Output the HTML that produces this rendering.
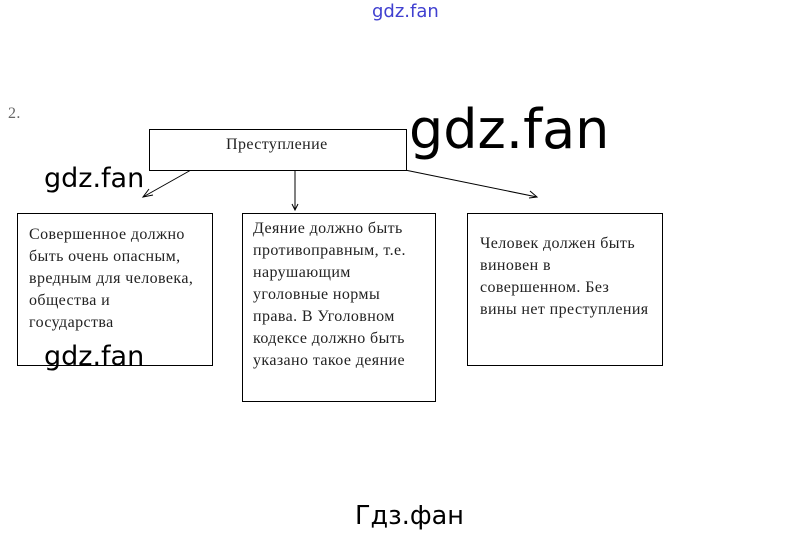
<!DOCTYPE html>
<html><head><meta charset="utf-8"><style>
body{margin:0;width:812px;height:535px;background:#fff;position:relative;overflow:hidden}
.t{position:absolute;font-family:"Liberation Serif",serif;font-size:16px;letter-spacing:0.4px;color:#222;line-height:22px;white-space:nowrap}
.w{position:absolute;font-family:"DejaVu Sans",sans-serif;color:#000;white-space:nowrap;line-height:1}
.b{position:absolute;border:1px solid #000;box-sizing:border-box;background:#fff}
</style></head><body>
<div class="w" style="left:372px;top:3px;font-size:18px;color:#4040d0">gdz.fan</div>
<div class="t" style="left:8px;top:103px;color:#666">2.</div>
<svg width="812" height="535" style="position:absolute;left:0;top:0">
<g stroke="#000" stroke-width="1" fill="none">
<line x1="191" y1="170" x2="143" y2="197"/>
<polyline points="149,189 143,197 153,195"/>
<line x1="295" y1="170" x2="295" y2="210"/>
<polyline points="292,204 295,210 298,204"/>
<line x1="405" y1="170" x2="537" y2="197"/>
<polyline points="530,191 537,197 529,198"/>
</g></svg>
<div class="b" style="left:149px;top:129px;width:258px;height:42px"></div>
<div class="t" style="left:226px;top:134px">Преступление</div>
<div class="b" style="left:17px;top:213px;width:196px;height:153px"></div>
<div class="t" style="left:29px;top:224px">Совершенное должно<br>быть очень опасным,<br>вредным для человека,<br>общества и<br>государства</div>
<div class="b" style="left:242px;top:213px;width:194px;height:189px"></div>
<div class="t" style="left:253px;top:218px">Деяние должно быть<br>противоправным, т.е.<br>нарушающим<br>уголовные нормы<br>права. В Уголовном<br>кодексе должно быть<br>указано такое деяние</div>
<div class="b" style="left:467px;top:213px;width:196px;height:153px"></div>
<div class="t" style="left:480px;top:233px">Человек должен быть<br>виновен в<br>совершенном. Без<br>вины нет преступления</div>
<div class="w" style="left:409px;top:103px;font-size:54px">gdz.fan</div>
<div class="w" style="left:44px;top:165px;font-size:27px">gdz.fan</div>
<div class="w" style="left:44px;top:343px;font-size:27px">gdz.fan</div>
<div class="w" style="left:355px;top:504px;font-size:25.5px">Гдз.фан</div>
</body></html>
